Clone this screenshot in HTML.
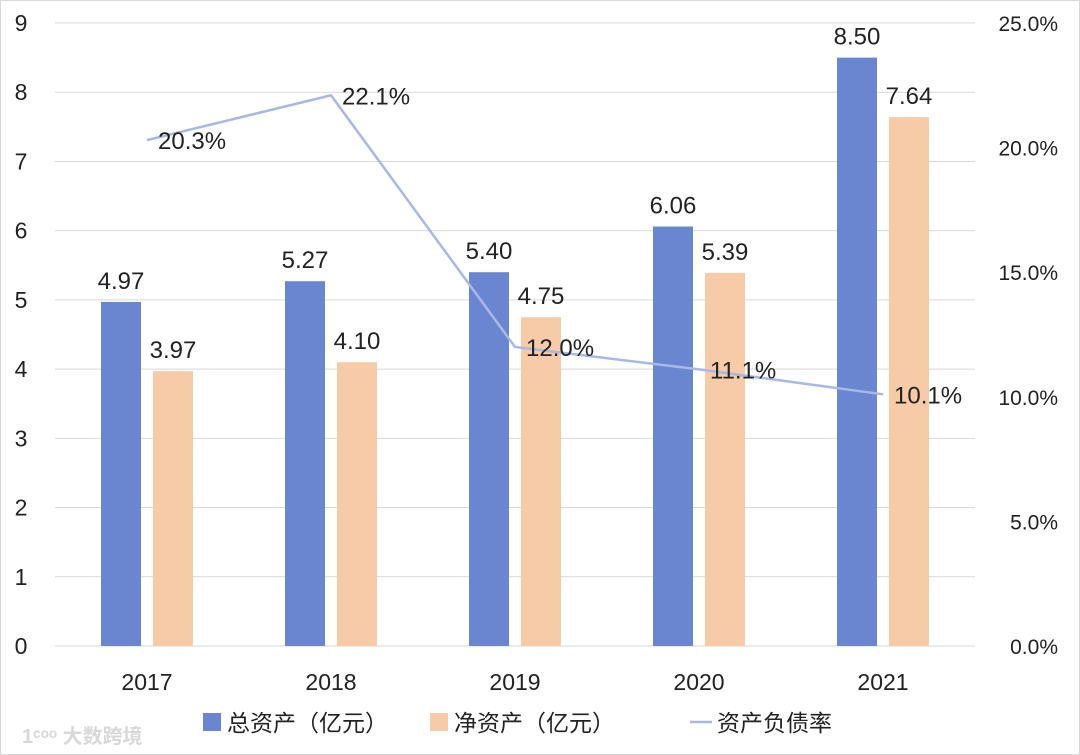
<!DOCTYPE html>
<html><head><meta charset="utf-8"><style>
body{margin:0;background:#fff}
svg{display:block;font-family:"Liberation Sans","Noto Sans CJK SC",sans-serif}
</style></head><body>
<svg width="1080" height="755" viewBox="0 0 1080 755">
<rect x="0.5" y="0.5" width="1079" height="754" fill="#fff" stroke="#d9d9d9"/>
<g id="grid"></g><g id="bars"></g><g id="line"></g><g id="labels"></g><g id="axes"></g>
<g font-size="23" fill="#222">
<rect x="203" y="713" width="18" height="18" fill="#6a86d0"/>
<text x="227" y="731">总资产（亿元）</text>
<rect x="430" y="713" width="18" height="18" fill="#f7caa8"/>
<text x="454" y="731">净资产（亿元）</text>
<line x1="690" y1="722" x2="712" y2="722" stroke="#a9b8e4" stroke-width="2.5"/>
<text x="717" y="731">资产负债率</text>
</g>
<text x="22" y="743" font-size="20" fill="#d8d8d8" font-weight="bold">1ᶜᵒᵒ 大数跨境</text>
</svg>
<script>
const categories=["2017","2018","2019","2020","2021"];
const totalAssets=[4.97,5.27,5.40,6.06,8.50];
const netAssets=[3.97,4.10,4.75,5.39,7.64];
const debtRatio=[20.3,22.1,12.0,11.1,10.1];
const leftTicks=[0,1,2,3,4,5,6,7,8,9];
const rightTicks=[0,5,10,15,20,25];
const NS="http://www.w3.org/2000/svg";
const X0=55,X1=975,Y0=646,Y1=23;
const band=(X1-X0)/categories.length;
const xc=i=>X0+band*(i+0.5);
const yL=v=>Y0-(v/9)*(Y0-Y1);
const yR=v=>Y0-(v/25)*(Y0-Y1);
function mk(tag,attrs,parent,txt){const e=document.createElementNS(NS,tag);for(const k in attrs)e.setAttribute(k,attrs[k]);if(txt!==undefined)e.textContent=txt;document.getElementById(parent).appendChild(e);return e;}
leftTicks.forEach(t=>{
  if(t>0){const g=mk('line',{x1:X0,x2:X1,y1:yL(t),y2:yL(t),stroke:'#d9d9d9','stroke-width':1},'grid');
  
  }
  const l=mk('text',{x:21,y:yL(t)+8,'font-size':23,fill:'#222','text-anchor':'middle'},'axes',String(t));
  
  
});
const base=mk('line',{x1:X0,x2:X1,y1:Y0,y2:Y0,stroke:'#d9d9d9','stroke-width':1},'grid');


rightTicks.forEach(t=>{
  const l=mk('text',{x:1058,y:yR(t)+8,'font-size':21,fill:'#222','text-anchor':'end'},'axes',t.toFixed(1)+'%');
  
  
});
categories.forEach((c,i)=>{
  const l=mk('text',{x:xc(i),y:690,'font-size':23,fill:'#222','text-anchor':'middle'},'axes',c);
  
  
  const b1=mk('rect',{x:xc(i)-46,y:yL(totalAssets[i]),width:40,height:Y0-yL(totalAssets[i]),fill:'#6a86d0'},'bars');
  
  
  const b2=mk('rect',{x:xc(i)+6,y:yL(netAssets[i]),width:40,height:Y0-yL(netAssets[i]),fill:'#f7caa8'},'bars');
  
  
  const t1=mk('text',{x:xc(i)-26,y:yL(totalAssets[i])-13,'font-size':24,fill:'#222','text-anchor':'middle'},'labels',totalAssets[i].toFixed(2));
  
  
  const t2=mk('text',{x:xc(i)+26,y:yL(netAssets[i])-13,'font-size':24,fill:'#222','text-anchor':'middle'},'labels',netAssets[i].toFixed(2));
  
  
  const t3=mk('text',{x:xc(i)+11,y:yR(debtRatio[i])+9,'font-size':24,fill:'#222'},'labels',debtRatio[i].toFixed(1)+'%');
  
  
});
const pl=mk('polyline',{points:debtRatio.map((v,i)=>xc(i)+','+yR(v)).join(' '),fill:'none',stroke:'#a9b8e4','stroke-width':2.5},'line');


</script>
</body></html>
